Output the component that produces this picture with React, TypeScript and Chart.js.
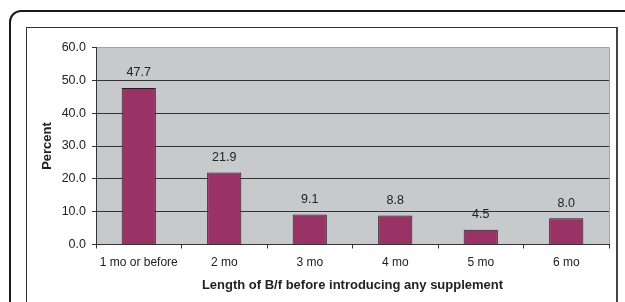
import React, { useEffect, useRef } from "react";
import { Chart, registerables } from "chart.js";

Chart.register(...registerables);

const categories = ["1 mo or before", "2 mo", "3 mo", "4 mo", "5 mo", "6 mo"];
const percentValues = [47.7, 21.9, 9.1, 8.8, 4.5, 8.0];
const yTicks = [0, 10, 20, 30, 40, 50, 60];
const xTitle = "Length of B/f before introducing any supplement";
const yTitle = "Percent";

const FONT = "'Liberation Sans', Arial, Helvetica, sans-serif";
const TEXT = "#222222";

const plotBg = {
  id: "plotBg",
  beforeDraw(chart: any) {
    const { ctx, chartArea: a } = chart;
    ctx.save();
    ctx.fillStyle = "#c8c9cc";
    ctx.fillRect(a.left, a.top, a.right - a.left, a.bottom - a.top);
    ctx.strokeStyle = "#a2a2a4";
    ctx.lineWidth = 1;
    ctx.beginPath();
    ctx.moveTo(a.left, Math.floor(a.top) + 0.5);
    ctx.lineTo(Math.floor(a.right) + 0.5, Math.floor(a.top) + 0.5);
    ctx.lineTo(Math.floor(a.right) + 0.5, a.bottom);
    ctx.stroke();
    ctx.restore();
  },
};

const barLabels = {
  id: "barLabels",
  afterDatasetsDraw(chart: any) {
    const { ctx } = chart;
    const meta = chart.getDatasetMeta(0);
    const data = chart.data.datasets[0].data as number[];
    ctx.save();
    ctx.fillStyle = TEXT;
    ctx.font = `12.5px ${FONT}`;
    ctx.textAlign = "center";
    ctx.textBaseline = "middle";
    meta.data.forEach((el: any, i: number) => {
      ctx.fillText(Number(data[i]).toFixed(1), el.x, el.y - 15);
    });
    ctx.restore();
  },
};

export default function App() {
  const ref = useRef<HTMLCanvasElement | null>(null);

  useEffect(() => {
    if (!ref.current) return;
    const chart = new Chart(ref.current, {
      type: "bar",
      data: {
        labels: categories,
        datasets: [
          {
            data: percentValues,
            backgroundColor: "#993366",
            borderColor: "#2a1a22",
            borderWidth: 1,
            barPercentage: 0.4,
            categoryPercentage: 1,
          },
        ],
      },
      options: {
        responsive: false,
        animation: false,
        devicePixelRatio: 1,
        layout: { padding: { left: 0, right: 16, top: 47.5, bottom: 0 } },
        plugins: {
          legend: { display: false },
          tooltip: { enabled: false },
        },
        scales: {
          x: {
            afterFit(scale: any) {
              scale.height = 57.5;
            },
            grid: {
              display: true,
              drawOnChartArea: false,
              drawTicks: true,
              tickLength: 4,
              tickColor: "#333333",
              offset: true,
            },
            border: { display: true, color: "#333333", width: 1 },
            ticks: {
              color: TEXT,
              font: { family: FONT, size: 12 },
              padding: 7,
              maxRotation: 0,
              autoSkip: false,
            },
            title: {
              display: true,
              text: xTitle,
              color: TEXT,
              font: { family: FONT, size: 13, weight: "bold" },
              padding: { top: 0, bottom: 9.2 },
            },
          },
          y: {
            min: 0,
            max: 60,
            afterFit(scale: any) {
              scale.width = 96;
            },
            afterBuildTicks(scale: any) {
              scale.ticks = yTicks.map((v) => ({ value: v }));
            },
            grid: {
              color: (c: any) => (c.tick && c.tick.value === 60 ? "rgba(0,0,0,0)" : "#333333"),
              lineWidth: 1,
              drawTicks: true,
              tickLength: 4,
              tickColor: "#333333",
            },
            border: { display: true, color: "#333333", width: 1 },
            ticks: {
              color: TEXT,
              font: { family: FONT, size: 12.5 },
              padding: 6,
              callback: (v: any) => Number(v).toFixed(1),
            },
            title: {
              display: true,
              text: yTitle,
              color: TEXT,
              font: { family: FONT, size: 13, weight: "bold" },
              padding: { top: 39.2, bottom: 0 },
            },
          },
        },
      },
      plugins: [plotBg, barLabels],
    });
    return () => chart.destroy();
  }, []);

  return (
    <div
      style={{
        position: "fixed",
        left: 0,
        top: 0,
        width: 625,
        height: 302,
        overflow: "hidden",
        background: "#ffffff",
      }}
    >
      <div
        style={{
          position: "absolute",
          left: 9,
          top: 10,
          width: 700,
          height: 400,
          border: "2px solid #1a1a1a",
          borderRadius: 12,
          boxSizing: "border-box",
        }}
      />
      <div
        style={{
          position: "absolute",
          left: 26,
          top: 27,
          width: 592,
          height: 400,
          borderTop: "1px solid #333333",
          borderLeft: "1px solid #333333",
          borderRight: "2px solid #444444",
          boxSizing: "border-box",
        }}
      />
      <canvas
        ref={ref}
        width={625}
        height={302}
        style={{ position: "absolute", left: 0, top: 0, width: 625, height: 302 }}
      />
    </div>
  );
}
